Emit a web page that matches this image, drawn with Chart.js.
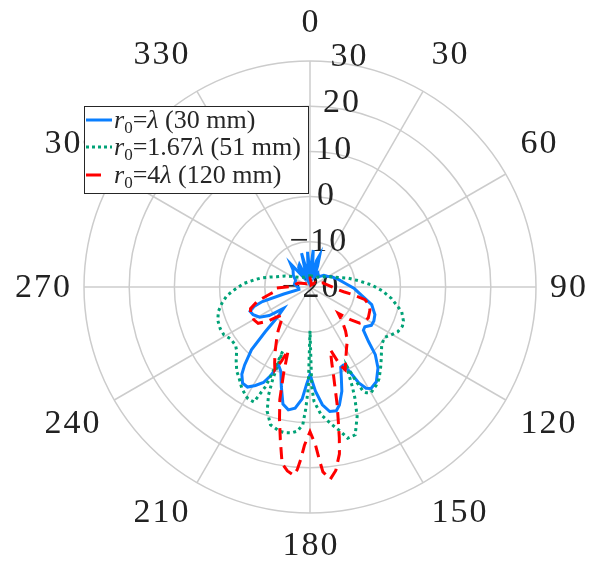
<!DOCTYPE html>
<html>
<head>
<meta charset="utf-8">
<script src="https://cdn.jsdelivr.net/npm/chart.js@4.4.0/dist/chart.umd.min.js"></script>
<style>
  html, body { margin: 0; padding: 0; background: #fff; }
  #wrap { position: relative; width: 600px; height: 564px; }
  #legend {
    position: absolute; left: 84px; top: 106px; width: 225px; height: 88px;
    box-sizing: border-box; border: 1.5px solid #262626; background: #fff;
    font-family: "Liberation Serif", serif; font-size: 26px; color: #262626;
  }
  #legend .row { position: absolute; left: 1px; height: 28px; display: flex; align-items: center; white-space: nowrap; }
  #legend svg { margin-right: 2px; flex: none; }
  #legend sub { font-size: 17px; vertical-align: -5px; line-height: 0; }
</style>
</head>
<body>
<div id="wrap">
  <canvas id="polar" width="600" height="564"></canvas>
  <div id="legend"></div>
</div>
<script>
// angle ticks (deg, clockwise from top) and radial ticks (dB)
const thetaTicks = [0, 30, 60, 90, 120, 150, 180, 210, 240, 270, 300, 330];
const rTicks = [-20, -10, 0, 10, 20, 30];

// r0 = lambda (30 mm)
const blueAngles = [0, 5, 8, 11, 14, 17, 20, 24, 30, 40, 50, 58, 65, 75, 84, 92, 99, 106, 113, 118, 122, 126, 129, 133, 136, 140, 145, 149, 151, 153, 155, 157, 159, 161, 163, 166, 168, 171, 174, 177, 180, 182, 184, 187, 190, 193, 196, 199, 202, 204, 206, 209, 212, 215, 218, 220, 223, 225, 227, 231, 235, 239, 244, 248, 251, 253, 255, 258, 265, 280, 295, 305, 315, 320, 325, 330, 335, 340, 346, 351, 356];
const blueDb = [-17, -11.8, -16, -18, -14, -12.6, -15, -17.5, -16.5, -17, -16, -15.5, -14.7, -13.5, -12.2, -10.2, -8.5, -5.8, -4.4, -4.0, -4.0, -5.0, -4.8, -2.3, 0.8, 3.4, 5.6, 6.2, 5.6, 3.8, 0.5, -1.2, -1.0, 1.3, 4.1, 6.9, 8.0, 7.9, 6.2, 3.1, -0.6, 1.5, 4.8, 7.0, 7.6, 6.6, 3.0, -0.2, -1.4, 1.5, 3.5, 4.9, 6.1, 6.0, 4.5, 2.5, -1.0, -6.0, -10, -12.5, -9, -7, -6, -5.7, -7, -9, -14, -17.5, -17.5, -16.5, -16.5, -15.5, -14.7, -13.3, -17, -15, -14.5, -18, -12.3, -17.5, -12.2];

// r0 = 1.67 lambda (51 mm)
const greenAngles = [0, 20, 30, 50, 65, 77, 83, 88, 93, 98, 105, 110, 113, 117, 120, 124, 129, 135, 139, 143, 146, 150, 152, 153, 154, 155, 156, 157, 158, 160, 163, 166, 168, 171, 175, 178, 179, 180, 181, 182, 183, 185, 187, 190, 192, 196, 199, 201, 202, 203, 204, 206, 209, 211, 214, 218, 221, 225, 229, 232, 237, 241, 245, 250, 255, 260, 264, 268, 273, 277, 280, 284, 287, 294, 302, 315, 330, 345];
const greenDb = [-17.5, -17.5, -17.5, -16.5, -14.7, -11.3, -9, -6.4, -4, -1.8, 1.0, 2.0, 2.2, 1.8, 1.0, -0.1, 0.4, 2.3, 3.8, 5.4, 6.2, 7.0, 6.5, 5.9, 3, -0.6, 1, 4, 6.5, 10.5, 14.2, 14.5, 12.7, 10.8, 8.4, 5.3, 2, -10.3, 2.4, 7.0, 10.5, 12, 12.5, 12.7, 12.6, 11.7, 9.1, 5.6, 2, -4.5, 4, 8.3, 8.3, 7.8, 7.0, 5.5, 4.7, 3.1, 1.5, 0.9, 1.0, 1.8, 1.9, 1.7, 1.0, -0.3, -1.5, -3.3, -5.3, -7.4, -8.8, -10.8, -12.3, -14, -15.7, -17, -17.5, -17.5];

// r0 = 4 lambda (120 mm)
const redAngles = [0, 15, 30, 50, 60, 72, 80, 90, 95, 98, 100, 103, 107, 111, 118, 123, 126, 129, 133, 137, 141, 145, 149, 153, 157, 159, 162, 164, 165, 167, 168, 169, 170, 172, 174, 176, 177, 178, 180, 182, 183, 184, 185, 187, 189, 191, 193, 195, 197, 199, 201, 203, 205, 208, 212, 216, 220, 225, 228, 231, 235, 240, 246, 250, 255, 259, 263, 268, 272, 288, 300, 315, 330, 345];
const redDb = [-18, -19, -19.5, -18.5, -18.5, -17, -16.5, -15, -14, -12.5, -10.5, -7.5, -6.3, -5.8, -5.4, -5.8, -6.4, -8.5, -11.5, -9.5, -7.5, -5.6, -4.3, -2.5, -0.1, -1.5, -5.4, -2.5, 0, 6.7, 10, 14, 17.5, 21, 22.8, 21, 18, 15, 12, 15, 18, 20.5, 21.8, 21, 19.5, 14.4, 10, 5.8, 0, -5.2, -2.5, -0.1, -1.5, -3.5, -6, -8, -10, -11.2, -10, -8, -6, -5.6, -5.6, -6, -8, -10.5, -12.3, -12.5, -16, -17.2, -18.5, -19, -19, -18];

// one label per degree, only every 30th gets a spoke
const labels = Array.from({ length: 360 }, (_, i) => i);

function ring(angles, values) {
  const out = new Array(360).fill(null);
  angles.forEach((a, i) => { out[a] = values[i]; });
  return out;
}

const series = [
  { name: '<i>r</i><sub>0</sub>=<i>λ</i> (30 mm)', color: '#0a7fff', dash: [], svgDash: '', angles: blueAngles, db: blueDb, order: 2 },
  { name: '<i>r</i><sub>0</sub>=1.67<i>λ</i> (51 mm)', color: '#00a277', dash: [3, 3.5], svgDash: '3 3', angles: greenAngles, db: greenDb, order: 1 },
  { name: '<i>r</i><sub>0</sub>=4<i>λ</i> (120 mm)', color: '#ff0000', dash: [12, 7], svgDash: '15 11', angles: redAngles, db: redDb, order: 0 }
];

// tick text around the rim and along a spoke near 0 deg
const polarLabels = {
  id: 'polarLabels',
  beforeDatasetsDraw(chart) {
    const r = chart.scales.r;
    const ctx = chart.ctx;
    ctx.save();
    ctx.font = '34px "Liberation Serif", serif';
    ctx.letterSpacing = '2px';
    ctx.fillStyle = '#222222';
    ctx.textAlign = 'center';
    ctx.textBaseline = 'middle';
    thetaTicks.forEach(deg => {
      const text = String(deg);
      const w = ctx.measureText(text).width - 2;
      const a = deg * Math.PI / 180;
      const s = Math.sin(a), c = Math.cos(a);
      const p = r.getPointPosition(deg, r.drawingArea + 17);
      const dx = Math.abs(s) < 0.01 ? 0 : Math.sign(s) * (Math.abs(c) < 0.01 ? w / 2 - 3 : w / 2);
      const dy = Math.abs(c) < 0.01 ? 0 : (c > 0 ? -22 : 15);
      ctx.fillText(text, p.x + dx + 1, p.y + dy + 1);
    });
    rTicks.forEach(v => {
      const d = r.getDistanceFromCenterForValue(v) * 1.035;
      const p = r.getPointPosition(9.5, d);
      ctx.fillText(String(v).replace('-', '\u2212'), p.x + 1, p.y + 1);
    });
    ctx.restore();
  }
};

new Chart(document.getElementById('polar'), {
  type: 'radar',
  data: {
    labels: labels,
    datasets: series.map(s => ({
      data: ring(s.angles, s.db),
      borderColor: s.color,
      borderWidth: 3,
      borderDash: s.dash,
      fill: false,
      spanGaps: true,
      pointRadius: 0,
      tension: 0,
      order: s.order
    }))
  },
  options: {
    responsive: false,
    animation: false,
    events: [],
    layout: { padding: { left: 84, right: 63, top: 61, bottom: 50 } },
    plugins: { legend: { display: false }, tooltip: { enabled: false } },
    scales: {
      r: {
        min: -20,
        max: 30,
        ticks: { stepSize: 10, display: false },
        pointLabels: { display: false },
        grid: { circular: true, color: '#cccccc', lineWidth: 1.5 },
        angleLines: {
          color: '#cccccc',
          lineWidth: c => (c.index % 30 === 0 ? 1.5 : 0)
        }
      }
    }
  },
  plugins: [polarLabels]
});

// legend box
const legend = document.getElementById('legend');
series.forEach((s, i) => {
  const row = document.createElement('div');
  row.className = 'row';
  row.style.top = [-1, 26, 54][i] + 'px';
  row.innerHTML = '<svg width="26" height="6"><line x1="0" y1="3" x2="26" y2="3" stroke="' + s.color +
    '" stroke-width="3" stroke-dasharray="' + s.svgDash + '"/></svg><span>' + s.name + '</span>';
  legend.appendChild(row);
});
</script>
</body>
</html>
